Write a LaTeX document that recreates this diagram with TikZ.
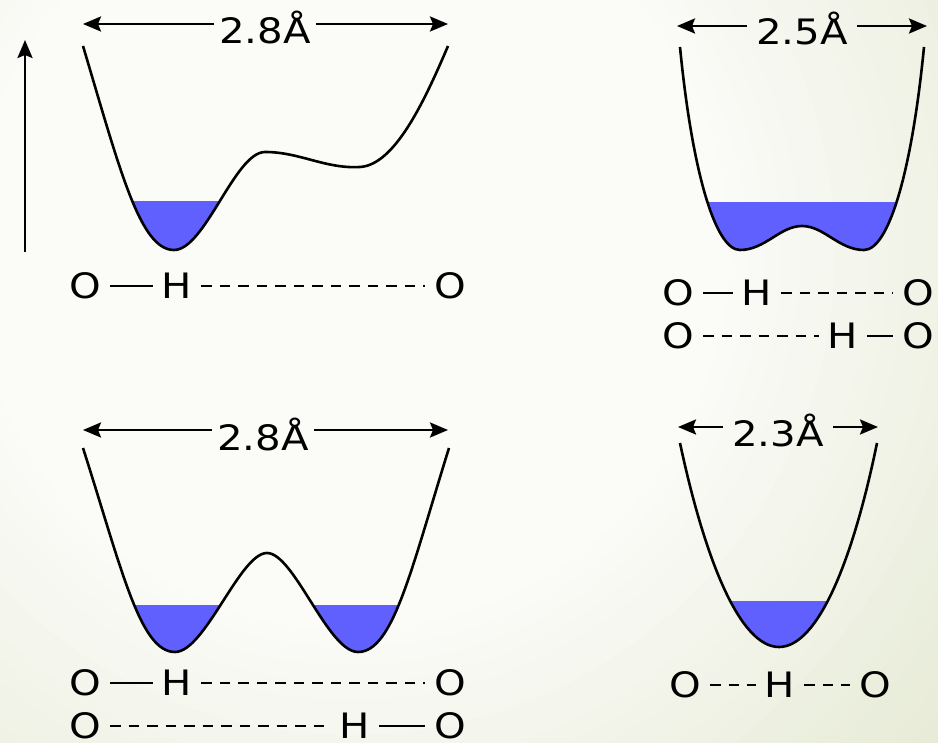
\documentclass[tikz,border=0pt]{standalone}
\usepackage{fontspec}
\setmainfont{DejaVu Sans}[FakeStretch=1.15]
\usetikzlibrary{arrows.meta}
\definecolor{wellBlue}{RGB}{96,96,255}
\definecolor{bgIn}{RGB}{251,251,248}
\definecolor{bgOut}{RGB}{229,234,212}

% the four potential curves, in pixel units (y grows downward)
\newcommand\wellAsym{(83,46) .. controls (120,170) and (140,250) .. (174,250)
  .. controls (205,250) and (235,152) .. (265,152)
  .. controls (300,152) and (325,169) .. (360,167)
  .. controls (395,165) and (425,100) .. (448,46)}
\newcommand\wellShallow{(680,47) .. controls (692,170) and (715,250) .. (740,250)
  .. controls (765,250) and (780,226) .. (802,226)
  .. controls (824,226) and (839,250) .. (864,250)
  .. controls (889,250) and (912,170) .. (924,47)}
\newcommand\wellDouble{(83,448) .. controls (122,570) and (140,652) .. (175,652)
  .. controls (205,652) and (240,553) .. (267,553)
  .. controls (294,553) and (328,652) .. (358,652)
  .. controls (393,652) and (411,570) .. (449,448)}
\newcommand\wellSingle{(680,443) .. controls (705,560) and (740,647) .. (779,647)
  .. controls (818,647) and (853,560) .. (877,443)}

\tikzset{
  atom/.style={font=\fontsize{35}{42}\selectfont, inner xsep=9pt, inner ysep=0pt},
  dimlbl/.style={font=\fontsize{35}{42}\selectfont, anchor=base, inner xsep=5pt},
  bond/.style={line width=2.4pt},
  hbond/.style={line width=2.4pt, dash pattern=on 10.5pt off 8pt},
  dimarrow/.style={line width=2.6pt, -{Stealth[length=18pt,width=15pt,inset=3pt]}},
  curve/.style={line width=2.6pt, line join=round}
}

\begin{document}
\begin{tikzpicture}[x=1pt, y=-1pt]
  \useasboundingbox (0,0) rectangle (938,743);
  % pale background, whitest round the upper left
  \fill[bgOut] (0,0) rectangle (938,743);
  \foreach \k in {0,...,24} {
    \pgfmathsetmacro\rad{800-\k*17.5}
    \pgfmathtruncatemacro\pct{\k*100/24}
    \fill[bgIn!\pct!bgOut] (350,250) circle (\rad pt);
  }

  % blue pools, clipped below each level
  \begin{scope}
    \clip (60,202) rectangle (470,270);
    \fill[wellBlue] \wellAsym -- cycle;
  \end{scope}
  \begin{scope}
    \clip (660,203) rectangle (940,270);
    \fill[wellBlue] \wellShallow -- cycle;
  \end{scope}
  \begin{scope}
    \clip (60,605) rectangle (470,670);
    \fill[wellBlue] \wellDouble -- cycle;
  \end{scope}
  \begin{scope}
    \clip (660,601) rectangle (900,670);
    \fill[wellBlue] \wellSingle -- cycle;
  \end{scope}
  \foreach \w in {\wellAsym,\wellShallow,\wellDouble,\wellSingle}
    \draw[curve] \w;

  % energy axis
  \coordinate (eLow) at (25,252);
  \coordinate (eHigh) at (25,40);
  \draw[dimarrow] (eLow) -- (eHigh);

  % distances
  \coordinate (aL) at (83,24);  \coordinate (aR) at (448,24);
  \node[dimlbl] (aLbl) at (265,44) {2.8Å};
  \draw[dimarrow] (aLbl.west |- aL) -- (aL);
  \draw[dimarrow] (aLbl.east |- aR) -- (aR);

  \coordinate (bL) at (677,26);  \coordinate (bR) at (927,26);
  \node[dimlbl, inner xsep=9.5pt] (bLbl) at (802,45) {2.5Å};
  \draw[dimarrow] (bLbl.west |- bL) -- (bL);
  \draw[dimarrow] (bLbl.east |- bR) -- (bR);

  \coordinate (cL) at (83,430);  \coordinate (cR) at (448,430);
  \node[dimlbl] (cLbl) at (263,451) {2.8Å};
  \draw[dimarrow] (cLbl.west |- cL) -- (cL);
  \draw[dimarrow] (cLbl.east |- cR) -- (cR);

  \coordinate (dL) at (678,427);  \coordinate (dR) at (878,427);
  \node[dimlbl, inner xsep=9.5pt] (dLbl) at (778,447) {2.3Å};
  \draw[dimarrow] (dLbl.west |- dL) -- (dL);
  \draw[dimarrow] (dLbl.east |- dR) -- (dR);

  % O-H...O, top left
  \node[atom] (aO1) at (85,286) {O};
  \node[atom] (aH)  at (177,286) {H};
  \node[atom] (aO2) at (450,286) {O};
  \draw[bond] (aO1) -- (aH);
  \draw[hbond] (aH) -- (aO2);

  % top right, two rows
  \node[atom] (bO1) at (678,293) {O};
  \node[atom] (bH)  at (757,293) {H};
  \node[atom] (bO2) at (918,293) {O};
  \draw[bond] (bO1) -- (bH);
  \draw[hbond] (bH) -- (bO2);
  \node[atom] (bO3) at (678,336) {O};
  \node[atom] (bH2) at (843,336) {H};
  \node[atom] (bO4) at (918,336) {O};
  \draw[hbond] (bO3) -- (bH2);
  \draw[bond] (bH2) -- (bO4);

  % bottom left, two rows
  \node[atom] (cO1) at (85,683) {O};
  \node[atom] (cH)  at (177,683) {H};
  \node[atom] (cO2) at (450,683) {O};
  \draw[bond] (cO1) -- (cH);
  \draw[hbond] (cH) -- (cO2);
  \node[atom] (cO3) at (85,726) {O};
  \node[atom] (cH2) at (355,726) {H};
  \node[atom] (cO4) at (450,726) {O};
  \draw[hbond] (cO3) -- (cH2);
  \draw[bond] (cH2) -- (cO4);

  % bottom right, symmetric
  \node[atom] (dO1) at (685,685) {O};
  \node[atom] (dH)  at (780,685) {H};
  \node[atom] (dO2) at (875,685) {O};
  \draw[hbond] (dO1) -- (dH);
  \draw[hbond] (dH) -- (dO2);
\end{tikzpicture}
\end{document}
